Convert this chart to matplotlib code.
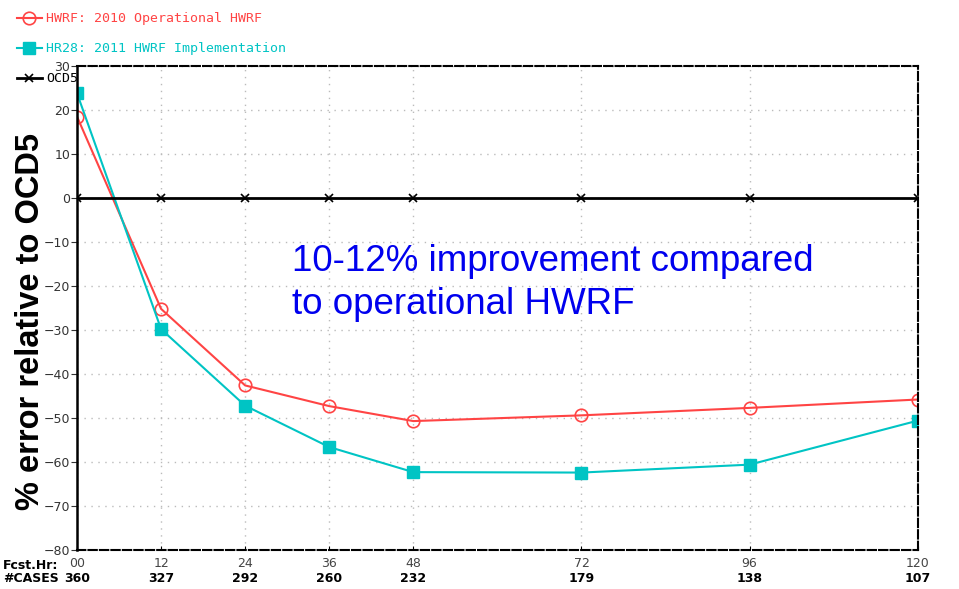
import numpy as np
import matplotlib.pyplot as plt

# Forecast hours, number of cases and % error relative to OCD5
fcst_hr = [0, 12, 24, 36, 48, 72, 96, 120]
hr_labels = ['00', '12', '24', '36', '48', '72', '96', '120']
n_cases = [360, 327, 292, 260, 232, 179, 138, 107]
hwrf = [18.5, -25.2, -42.6, -47.3, -50.7, -49.4, -47.7, -45.8]
hr28 = [23.8, -29.8, -47.2, -56.6, -62.3, -62.4, -60.6, -50.6]
ocd5 = [0, 0, 0, 0, 0, 0, 0, 0]

red = '#ff4444'
cyan = '#00c4c4'

fig = plt.figure(figsize=(9.59, 5.89), dpi=100)
ax = fig.add_axes([0.0803, 0.0662, 0.8767, 0.8218])

# Series
ax.plot(fcst_hr, hwrf, color=red, lw=1.5, marker='o', ms=9, mfc='none', mec=red, mew=1.2,
        label='HWRF: 2010 Operational HWRF')
ax.plot(fcst_hr, hr28, color=cyan, lw=1.5, marker='s', ms=8, mfc=cyan, mec=cyan,
        label='HR28: 2011 HWRF Implementation')
ax.plot(fcst_hr, ocd5, color='k', lw=2, marker='x', ms=6, mew=1.2, label='OCD5', zorder=3)

# Axes limits / ticks
ax.set_xlim(0, 120)
ax.set_ylim(-80, 30)
ax.set_yticks(np.arange(-80, 31, 10))
ax.set_xticks(fcst_hr)
ax.set_xticklabels(hr_labels, fontsize=9, color='#444444')
ax.tick_params(axis='y', labelsize=9, length=4, direction='out', colors='#333333', pad=1)
ax.tick_params(axis='x', length=3, direction='in', pad=5)
ax.grid(True, color='#bbbbbb', linestyle=(0, (1, 4)), lw=1)

# Frame: solid left, dashed elsewhere
for side in ['top', 'bottom', 'right']:
    ax.spines[side].set_linestyle((0, (4, 1.5)))
    ax.spines[side].set_linewidth(1.5)
ax.spines['left'].set_linewidth(1.8)

# Case count row and row headers
tr = ax.get_xaxis_transform()
for h, n in zip(fcst_hr, n_cases):
    ax.text(h, -0.058, str(n), transform=tr, ha='center', va='center',
            fontsize=9, fontweight='bold')
fig.text(0.003, 0.040, 'Fcst.Hr:', fontsize=9, fontweight='bold', va='center')
fig.text(0.003, 0.018, '#CASES', fontsize=9, fontweight='bold', va='center')

# Y label and annotation
ax.set_ylabel('% error relative to OCD5', fontsize=23.5, fontweight='bold',
              family='Liberation Sans')
ax.yaxis.set_label_coords(-0.037, 0.472)
ax.text(0.256, 0.471, '10-12% improvement compared\nto operational HWRF',
        transform=ax.transAxes, color='#0000ee', fontsize=26.5,
        family='Liberation Sans', va='bottom', linespacing=1.28)

# Legend at top left
leg = fig.legend(loc='upper left', bbox_to_anchor=(0.005, 0.999), frameon=False,
                 prop={'family': 'DejaVu Sans Mono', 'size': 9.5},
                 labelspacing=1.28, handlelength=1.9, handletextpad=0.35,
                 labelcolor='linecolor')

fig.savefig('out.png', dpi=100)
